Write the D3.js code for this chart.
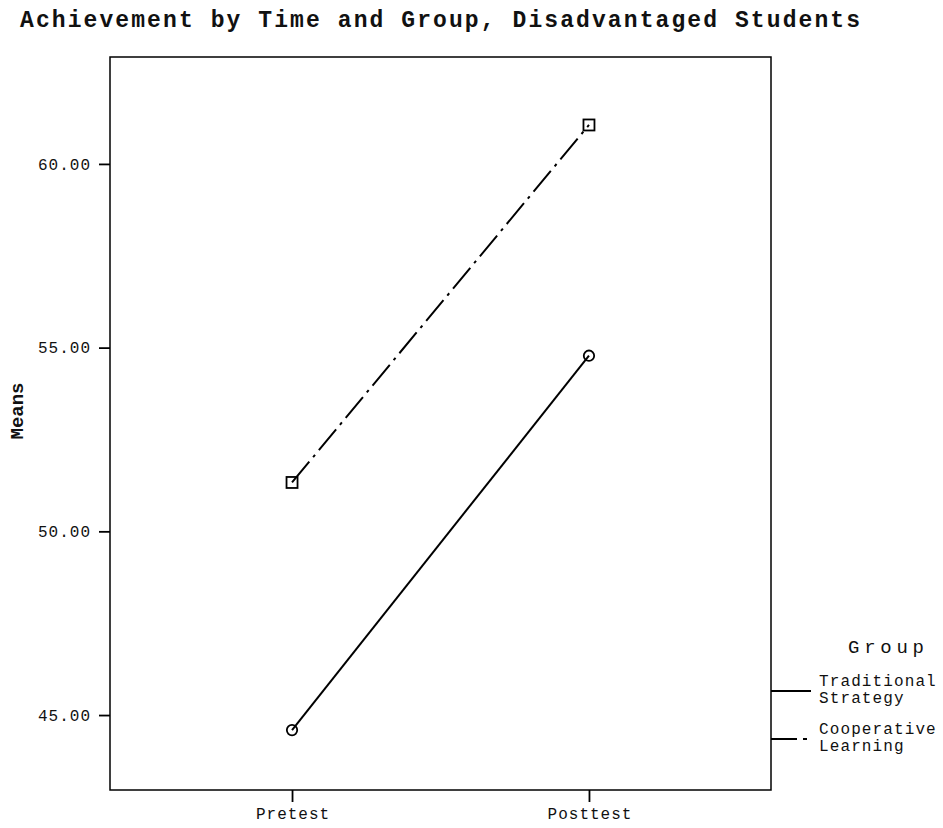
<!DOCTYPE html>
<html>
<head>
<meta charset="utf-8">
<script src="https://cdn.jsdelivr.net/npm/d3@7"></script>
<style>
  body { margin: 0; background: #fff; }
  text { font-family: "Liberation Mono", "Courier New", monospace; fill: #111; }
</style>
</head>
<body>
<div id="chart"></div>
<script>
// Data
var times = ["Pretest", "Posttest"];
var groups = ["Traditional Strategy", "Cooperative Learning"];
var traditional = [44.59, 54.78];
var cooperative = [51.33, 61.06];
var yTicks = [45, 50, 55, 60];

var width = 943, height = 828;
var plotLeft = 110, plotRight = 771, plotTop = 57, plotBottom = 790;

var svg = d3.select("#chart")
            .append("svg")
            .attr("width", width)
            .attr("height", height);

// Title
svg.append("text")
   .attr("x", 440)
   .attr("y", 27)
   .attr("text-anchor", "middle")
   .attr("font-size", "23px")
   .attr("font-weight", "bold")
   .attr("textLength", 840)
   .attr("lengthAdjust", "spacing")
   .text("Achievement by Time and Group, Disadvantaged Students");

// Scales
var xScale = d3.scalePoint()
               .domain(times)
               .range([plotLeft, plotRight])
               .padding(0.613);

var yScale = d3.scaleLinear()
               .domain([42.96, 62.91])
               .range([plotBottom, plotTop]);

// Frame
svg.append("rect")
   .attr("x", plotLeft)
   .attr("y", plotTop)
   .attr("width", plotRight - plotLeft)
   .attr("height", plotBottom - plotTop)
   .attr("fill", "none")
   .attr("stroke", "#000")
   .attr("stroke-width", 1.5);

// Y axis
var yAxis = svg.append("g")
   .attr("transform", "translate(" + plotLeft + ",0)")
   .call(d3.axisLeft(yScale).tickValues(yTicks).tickFormat(d3.format(".2f")).tickSize(11).tickPadding(9));
yAxis.select(".domain").remove();
yAxis.selectAll(".tick line").attr("stroke", "#000").attr("stroke-width", 1.8);
yAxis.selectAll(".tick text")
     .attr("font-size", "16px")
     .attr("font-family", "Liberation Mono")
     .attr("fill", "#222")
     .attr("textLength", 52)
     .attr("lengthAdjust", "spacing");

// X axis
var xAxis = svg.append("g")
   .attr("transform", "translate(0," + plotBottom + ")")
   .call(d3.axisBottom(xScale).tickSize(12).tickPadding(6));
xAxis.select(".domain").remove();
xAxis.selectAll(".tick line").attr("stroke", "#000").attr("stroke-width", 1.8);
xAxis.selectAll(".tick text")
     .attr("font-size", "16px")
     .attr("font-family", "Liberation Mono")
     .attr("fill", "#222")
     .attr("textLength", function(d) { return d.length * 10.6 - 1; })
     .attr("lengthAdjust", "spacing");

// Y axis title
svg.append("text")
   .attr("transform", "translate(23,411) rotate(-90)")
   .attr("text-anchor", "middle")
   .attr("font-size", "19px")
   .attr("font-weight", "bold")
   .attr("textLength", 57)
   .attr("lengthAdjust", "spacing")
   .text("Means");

// Lines
var series = [
    { name: groups[0], values: traditional, dash: null, marker: "circle" },
    { name: groups[1], values: cooperative, dash: "27,6,3,6", marker: "square" }
];

var line = d3.line()
             .x(function(d, i) { return xScale(times[i]); })
             .y(function(d) { return yScale(d); });

series.forEach(function(s) {
    svg.append("path")
       .datum(s.values)
       .attr("d", line)
       .attr("fill", "none")
       .attr("stroke", "#000")
       .attr("stroke-width", 2)
       .attr("stroke-dasharray", s.dash);

    s.values.forEach(function(v, i) {
        var cx = xScale(times[i]), cy = yScale(v);
        if (s.marker === "circle") {
            svg.append("circle")
               .attr("cx", cx).attr("cy", cy).attr("r", 5.2)
               .attr("fill", "none").attr("stroke", "#000").attr("stroke-width", 1.8);
        } else {
            svg.append("rect")
               .attr("x", cx - 5.5).attr("y", cy - 5.5)
               .attr("width", 11).attr("height", 11)
               .attr("fill", "none").attr("stroke", "#000").attr("stroke-width", 1.8);
        }
    });
});

// Legend
svg.append("text")
   .attr("x", 848)
   .attr("y", 653)
   .attr("font-size", "19px")
   .attr("textLength", 76)
   .attr("lengthAdjust", "spacing")
   .text("Group");

var legendRows = [
    { lines: ["Traditional", "Strategy"], y: 691, dash: null },
    { lines: ["Cooperative", "Learning"], y: 739, dash: "26,6,4,20" }
];

legendRows.forEach(function(r) {
    svg.append("line")
       .attr("x1", plotRight).attr("x2", 811)
       .attr("y1", r.y).attr("y2", r.y)
       .attr("stroke", "#000")
       .attr("stroke-width", 2)
       .attr("stroke-dasharray", r.dash);
    r.lines.forEach(function(t, i) {
        svg.append("text")
           .attr("x", 819)
           .attr("y", r.y - 5 + i * 17)
           .attr("font-size", "16px")
           .attr("textLength", t.length * 10.7 - 1)
           .attr("lengthAdjust", "spacing")
           .text(t);
    });
});
</script>
</body>
</html>
